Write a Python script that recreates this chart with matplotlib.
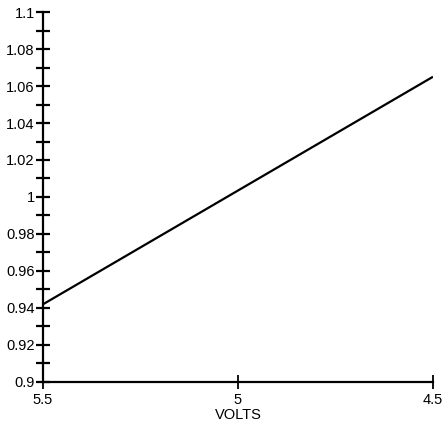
import matplotlib
matplotlib.use("Agg")
import matplotlib.pyplot as plt
import numpy as np

volts = [5.5, 4.5]
ratio = [0.942, 1.065]
y_ticks = [0.9, 0.92, 0.94, 0.96, 0.98, 1.0, 1.02, 1.04, 1.06, 1.08, 1.1]
y_minor = [0.91, 0.93, 0.95, 0.97, 0.99, 1.01, 1.03, 1.05, 1.07, 1.09]
x_ticks = [5.5, 5.0, 4.5]

plt.rcParams['font.family'] = ['Liberation Sans Narrow', 'Liberation Sans', 'DejaVu Sans']

fig = plt.figure(figsize=(4.42, 4.29), dpi=100)
ax = fig.add_axes([0.0973, 0.1096, 0.8823, 0.8624])
ax.plot(volts, ratio, color='black', lw=1.6, solid_capstyle='butt')
ax.set_xlim(5.5, 4.5)
ax.set_ylim(0.9, 1.1)
ax.set_yticks(y_ticks)
ax.set_yticklabels([f"{v:g}" for v in y_ticks])
ax.set_yticks(y_minor, minor=True)
ax.set_xticks(x_ticks)
ax.set_xticklabels([f"{v:g}" for v in x_ticks])
for s in ['top', 'right']:
    ax.spines[s].set_visible(False)
for s in ['left', 'bottom']:
    ax.spines[s].set_linewidth(1.6)
ax.tick_params(axis='y', which='both', direction='inout', length=10, width=1.6, labelsize=10.5, pad=1)
ax.tick_params(axis='x', which='both', direction='inout', length=10, width=1.3, labelsize=10.5, pad=3)
ax.set_xlabel('VOLTS', fontsize=10.5, labelpad=1)
fig.savefig('out.png', dpi=100)
